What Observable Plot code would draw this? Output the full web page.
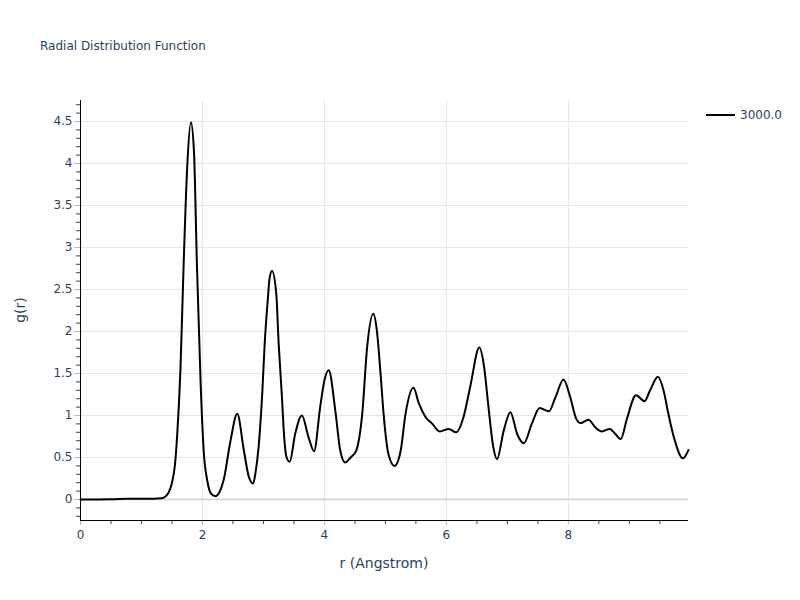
<!DOCTYPE html>
<html>
<head>
<meta charset="utf-8">
<script src="https://cdn.jsdelivr.net/npm/d3@7"></script>
<script src="https://cdn.jsdelivr.net/npm/@observablehq/plot@0.6"></script>
<style>
  html, body { margin: 0; padding: 0; background: #fff; }
  #chart { position: relative; width: 800px; height: 600px; }
</style>
</head>
<body>
<div id="chart"></div>
<script>
const title = "Radial Distribution Function";
const xLabel = "r (Angstrom)";
const yLabel = "g(r)";
const seriesName = "3000.0";

const rValues = [0, 0.5, 0.75, 1.0, 1.2, 1.33, 1.40, 1.45, 1.50, 1.55, 1.585, 1.64, 1.69, 1.75, 1.81, 1.86, 1.91, 1.97, 2.02, 2.08, 2.14, 2.21, 2.28, 2.35, 2.46, 2.57, 2.68, 2.76, 2.83, 2.87, 2.92, 2.98, 3.02, 3.07, 3.10, 3.14, 3.21, 3.25, 3.30, 3.34, 3.38, 3.43, 3.52, 3.63, 3.74, 3.83, 3.93, 4.0, 4.07, 4.18, 4.26, 4.34, 4.43, 4.52, 4.62, 4.70, 4.80, 4.86, 4.92, 4.97, 5.05, 5.15, 5.25, 5.33, 5.46, 5.55, 5.66, 5.77, 5.89, 6.04, 6.16, 6.28, 6.39, 6.54, 6.62, 6.69, 6.77, 6.83, 6.94, 7.05, 7.16, 7.27, 7.40, 7.53, 7.68, 7.79, 7.92, 8.03, 8.13, 8.20, 8.33, 8.44, 8.55, 8.68, 8.77, 8.86, 8.96, 9.11, 9.25, 9.34, 9.47, 9.56, 9.64, 9.73, 9.88, 9.97];
const gValues = [0, 0.003, 0.008, 0.01, 0.01, 0.015, 0.04, 0.09, 0.2, 0.42, 0.76, 1.57, 2.77, 3.96, 4.49, 4.15, 2.77, 1.38, 0.58, 0.22, 0.07, 0.04, 0.09, 0.24, 0.70, 1.02, 0.58, 0.27, 0.19, 0.32, 0.62, 1.26, 1.85, 2.37, 2.63, 2.72, 2.45, 1.85, 1.26, 0.74, 0.50, 0.45, 0.78, 1.0, 0.74, 0.575, 1.10, 1.42, 1.54, 1.05, 0.58, 0.44, 0.50, 0.58, 1.02, 1.81, 2.21, 2.01, 1.50, 1.02, 0.54, 0.40, 0.58, 1.02, 1.33, 1.14, 0.98, 0.90, 0.81, 0.84, 0.80, 0.98, 1.34, 1.81, 1.57, 1.10, 0.62, 0.48, 0.82, 1.04, 0.78, 0.67, 0.90, 1.09, 1.05, 1.22, 1.43, 1.22, 0.96, 0.91, 0.95, 0.86, 0.81, 0.84, 0.78, 0.72, 0.96, 1.24, 1.17, 1.30, 1.46, 1.30, 1.02, 0.74, 0.49, 0.59];

const xTicks = [0, 2, 4, 6, 8];
const xMinorTicks = [0.5, 1, 1.5, 2.5, 3, 3.5, 4.5, 5, 5.5, 6.5, 7, 7.5, 8.5, 9, 9.5];
const yTicks = [0, 0.5, 1, 1.5, 2, 2.5, 3, 3.5, 4, 4.5];
const yTickLabels = ["0", "0.5", "1", "1.5", "2", "2.5", "3", "3.5", "4", "4.5"];
const yMinorTicks = [-0.2, -0.1, 0.1, 0.2, 0.3, 0.4, 0.6, 0.7, 0.8, 0.9, 1.1, 1.2, 1.3, 1.4, 1.6, 1.7, 1.8, 1.9, 2.1, 2.2, 2.3, 2.4, 2.6, 2.7, 2.8, 2.9, 3.1, 3.2, 3.3, 3.4, 3.6, 3.7, 3.8, 3.9, 4.1, 4.2, 4.3, 4.4, 4.6, 4.7];

const xDomain = [0, 9.97];
const yDomain = [-0.25, 4.75];

const data = rValues.map((r, i) => ({r, g: gValues[i]}));

const textColor = "#2a3f5f";
const gridColor = "#e5e5e5";
const font = "'DejaVu Sans', Verdana, sans-serif";

const plot = Plot.plot({
  width: 800,
  height: 600,
  marginLeft: 80,
  marginRight: 112,
  marginTop: 100,
  marginBottom: 80,
  style: {fontFamily: font, fontSize: "12px", background: "#fff", color: textColor},
  x: {domain: xDomain, label: null},
  y: {domain: yDomain, label: null},
  marks: [
    Plot.gridX(xTicks.filter(d => d !== 0), {stroke: gridColor, strokeOpacity: 1}),
    Plot.gridY(yTicks.filter(d => d !== 0), {stroke: gridColor, strokeOpacity: 1}),
    Plot.ruleY([0], {stroke: "#cfcfcf", strokeWidth: 1.5}),
    Plot.axisX(xMinorTicks, {tickSize: 4, stroke: "#444", tickFormat: () => ""}),
    Plot.axisX(xTicks, {tickSize: 5, tickPadding: 5, stroke: "#bbb", fill: textColor, tickFormat: d => String(d)}),
    Plot.axisY(yMinorTicks, {tickSize: 4, stroke: "#444", tickFormat: () => ""}),
    Plot.axisY(yTicks, {tickSize: 6, tickPadding: 2, stroke: "#bbb", fill: textColor, tickFormat: (d, i) => yTickLabels[i]}),
    Plot.line(data, {x: "r", y: "g", curve: "monotone-x", stroke: "#000", strokeWidth: 2}),
    Plot.ruleX([0], {stroke: "#000", strokeWidth: 1}),
    Plot.ruleY([yDomain[0]], {stroke: "#000", strokeWidth: 1})
  ]
});

document.getElementById("chart").appendChild(plot);

const svg = d3.select(plot);
svg.append("text")
  .attr("x", 40).attr("y", 50)
  .attr("text-anchor", "start")
  .attr("fill", textColor)
  .style("font-size", "12px")
  .style("font-family", font)
  .text(title);

svg.append("text")
  .attr("x", 384).attr("y", 568)
  .attr("text-anchor", "middle")
  .attr("fill", textColor)
  .style("font-size", "14px")
  .style("font-family", font)
  .text(xLabel);

svg.append("text")
  .attr("transform", "translate(25,310) rotate(-90)")
  .attr("text-anchor", "middle")
  .attr("fill", textColor)
  .style("font-size", "14px")
  .style("font-family", font)
  .text(yLabel);

svg.append("line")
  .attr("x1", 706).attr("x2", 735).attr("y1", 115).attr("y2", 115)
  .attr("stroke", "#000").attr("stroke-width", 2);
svg.append("text")
  .attr("x", 740).attr("y", 119)
  .attr("text-anchor", "start")
  .attr("fill", textColor)
  .style("font-size", "12px")
  .style("font-family", font)
  .text(seriesName);
</script>
</body>
</html>
